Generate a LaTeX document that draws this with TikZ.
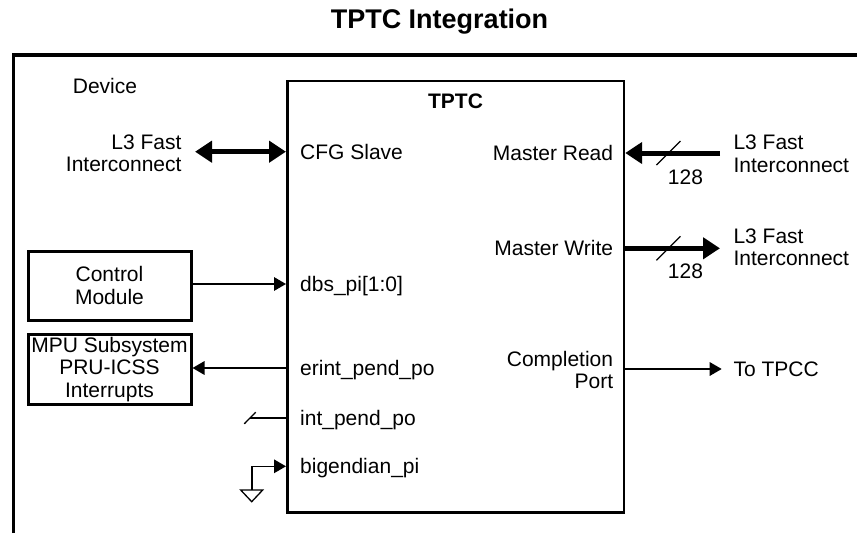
\documentclass[tikz,border=0pt]{standalone}
\usepackage{fontspec}
\setmainfont{Liberation Sans}
\usepackage{tikz}
\usetikzlibrary{arrows.meta, positioning, calc}

\begin{document}
\begin{tikzpicture}[x=1pt, y=-1pt]

\tikzset{
    txt/.style={inner sep=0pt, font=\fontsize{21pt}{22.5pt}\selectfont},
    port/.style={txt, text height=15pt, text depth=0pt},
    blk/.style={rectangle, draw, line width=3pt, minimum width=163pt, align=center, txt},
    sig/.style={line width=1.6pt, >={Triangle[length=12pt, width=13.5pt]}},
    bus/.style={line width=5pt, >={Triangle[length=17pt, width=21pt]}},
    tick/.style={line width=1.3pt}
}

\useasboundingbox (0,0) rectangle (857,533);

% ── 标题 ──
\node[txt, font=\fontsize{27pt}{29pt}\selectfont\bfseries, anchor=base] (title) at (439.5,28) {TPTC Integration};

% ── Device 边框 ──
\draw[line width=3.5pt] (13.3,533) -- (13.3,55) -- (857,55);
\node[port] (device) at (105,85.8) {Device};

% ── TPTC 模块 ──
\node[rectangle, draw, line width=2.5pt, minimum width=336.7pt, minimum height=431.5pt] (tptc) at (455.6,296.75) {};
\node[port, font=\fontsize{21pt}{22.5pt}\selectfont\bfseries] (tptcname) at (455.5,100.5) {TPTC};

\node[port, anchor=west] (cfg)     at (300,151.7) {CFG Slave};
\node[port, anchor=west] (dbs)     at (300,284)   {dbs\_pi[1:0]};
\node[port, anchor=west] (erint)   at (300,368)   {erint\_pend\_po};
\node[port, anchor=west] (intpend) at (300,418)   {int\_pend\_po};
\node[port, anchor=west] (bigend)  at (300,466.3) {bigendian\_pi};
\node[port, anchor=east] (mread)   at (613.3,153) {Master Read};
\node[port, anchor=east] (mwrite)  at (613.3,248.3) {Master Write};
\node[txt, anchor=east, align=right] (cport) at (613.3,370) {Completion\\Port};

% ── 外部模块 ──
\node[txt, anchor=east, align=right] (l3cfg) at (181.7,153.4) {L3 Fast\\Interconnect};
\node[txt, anchor=west, align=left]  (l3rd)  at (733.3,154)   {L3 Fast\\Interconnect};
\node[txt, anchor=west, align=left]  (l3wr)  at (733.3,247.5) {L3 Fast\\Interconnect};
\node[port, anchor=west] (tpcc) at (733.3,369) {To TPCC};

\node[blk, minimum height=69pt] (ctrl) at (109.5,285.7) {Control\\Module};
\node[blk, minimum height=70pt] (mpu)  at (109.5,369.5) {MPU Subsystem\\PRU-ICSS\\Interrupts};

% ── 总线 ──
\draw[bus, <->, shorten <=13.3pt] (l3cfg.east |- cfg) -- (tptc.west |- cfg);
\draw[bus, ->, shorten <=13.3pt] (l3rd.west |- mread) -- coordinate[pos=0.6] (rdtick) (tptc.east |- mread);
\draw[bus, ->, shorten >=13.3pt] (tptc.east |- mwrite) -- coordinate[pos=0.4] (wrtick) (l3wr.west |- mwrite);

\draw[tick] ($(rdtick)+(-12,12)$) -- ($(rdtick)+(12,-12)$);
\draw[tick] ($(wrtick)+(-12,12)$) -- ($(wrtick)+(12,-12)$);
\node[txt] (rdwidth) at ($(rdtick)+(17,24)$) {128};
\node[txt] (wrwidth) at ($(wrtick)+(17,23)$) {128};

% ── 信号 ──
\draw[sig, ->] (ctrl.east |- dbs) -- (tptc.west |- dbs);
\draw[sig, ->] (tptc.west |- erint) -- (mpu.east |- erint);
\draw[sig, ->, shorten >=11.6pt] (tptc.east |- tpcc) -- (tpcc.west);

\draw[sig] (tptc.west |- intpend) -- ++(-36,0) coordinate (intend);
\draw[tick] ($(intend)+(-5.7,5.8)$) -- ($(intend)+(5.7,-5.8)$);

\coordinate (gnd) at (251.7,490);
\draw[sig, ->] (gnd) |- (tptc.west |- bigend);
\draw[tick] (gnd) ++(-11,0) -- ++(22,0) -- ++(-11,11.7) -- cycle;

\end{tikzpicture}
\end{document}
